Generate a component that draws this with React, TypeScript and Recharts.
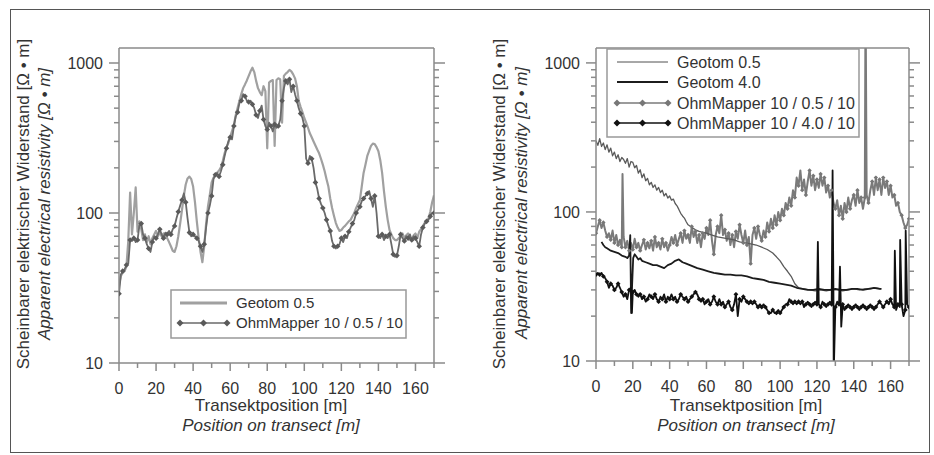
import React from 'react';
import { LineChart, Line, XAxis, YAxis } from 'recharts';

const FONT = '"Liberation Sans", Arial, Helvetica, sans-serif';
const AX = '#8a8a8a';
const TXT = '#333';

// ---------- axes ----------
const xTicks = [0, 10, 20, 30, 40, 50, 60, 70, 80, 90, 100, 110, 120, 130, 140, 150, 160, 170];
const xLabelTicks = [0, 20, 40, 60, 80, 100, 120, 140, 160];
const yTicks = [10, 20, 30, 40, 50, 60, 70, 80, 90, 100, 200, 300, 400, 500, 600, 700, 800, 900, 1000];
const yLabelTicks = [10, 100, 1000];
const xDomain = [0, 170];
const yDomain = [10, 1259];

// transect positions (m) of the 1 m sampled readings
const positions = Array.from({ length: 171 }, (_, i) => i);

// ---------- left panel ----------
const geotomLeft = [
  33, 38, 40, 41, 44, 65, 137, 72, 100, 148, 75,
  88, 78, 66, 72, 64, 70, 62, 68, 72, 76,
  70, 74, 70, 73, 70, 68, 64, 60, 56, 55,
  60, 70, 85, 105, 130, 155, 170, 175, 168, 150,
  118, 88, 68, 55, 47, 60, 85, 110, 132, 160,
  172, 178, 186, 192, 202, 222, 250, 275, 292, 322,
  352, 385, 450, 500, 560, 620, 680, 720, 765, 820,
  880, 930, 870, 760, 680, 640, 610, 700, 650, 270,
  740, 760, 770, 280, 770, 790, 780, 400, 820, 850,
  870, 900, 880, 840, 790, 700, 560, 510, 470, 430,
  400, 370, 340, 320, 300, 282, 265, 250, 230, 210,
  190, 168, 150, 125, 108, 96, 86, 80, 76, 77,
  80, 82, 85, 88, 90, 95, 100, 108, 115, 122,
  150, 185, 210, 240, 260, 280, 290, 288, 275, 258,
  225, 185, 140, 110, 90, 77, 72, 68, 66, 66,
  68, 70, 73, 68, 71, 73, 68, 66, 71, 73,
  68, 75, 78, 82, 86, 88, 92, 102, 118, 131,
];

const ohmLeft = [
  29, 39, 41, 42, 45, 46, 66, 65, 68, 64, 66,
  82, 85, 72, 68, 62, 58, 55, 64, 70, 68,
  72, 78, 72, 68, 74, 72, 76, 72, 78, 82,
  92, 102, 112, 122, 135, 118, 92, 74, 70, 72,
  70, 68, 65, 60, 55, 62, 80, 100, 112, 130,
  168, 180, 185, 175, 190, 210, 240, 270, 300, 320,
  310, 380, 440, 470, 540, 560, 620, 600, 560, 550,
  560, 530, 500, 450, 430, 480, 520, 420, 380, 360,
  400, 380, 350, 390, 370, 380, 420, 560, 680, 760,
  720, 780, 640, 700, 620, 560, 500, 460, 430, 380,
  230, 215, 240, 230, 200, 160, 145, 125, 115, 108,
  100, 90, 82, 76, 65, 60, 58, 60, 62, 68,
  64, 70, 68, 75, 80, 85, 90, 100, 105, 110,
  120, 125, 130, 135, 140, 125, 110, 130, 100, 70,
  68, 72, 66, 70, 68, 72, 62, 53, 51, 52,
  60, 72, 68, 65, 70, 68, 72, 66, 70, 68,
  64, 60, 72, 80, 85, 88, 90, 95, 100, 100,
];

// ---------- right panel ----------
const geotom05RightHead = [
  300, 280, 310, 275, 290, 262, 282, 252, 268, 238, 252,
  228, 242, 218, 232, 225, 212, 228, 200, 218, 215,
  198, 205, 182, 192, 170, 180, 162, 168, 152, 158,
  146, 152, 140, 146, 135, 140, 128, 133, 124, 128,
  120, 122, 114, 110, 104, 98, 94, 91, 86, 82,
];
const geotom05RightTail: [number, number][] = [
  [52, 79], [54, 76], [56, 74], [58, 73], [60, 72], [63, 70], [66, 68], [69, 67], [72, 66],
  [75, 65], [78, 63], [81, 62], [84, 61], [87, 60], [90, 58], [93, 56], [96, 53], [98, 50],
  [100, 47], [102, 43], [104, 40], [106, 37], [108, 33], [110, 31], [113, 30.5], [116, 30],
  [119, 29.5], [122, 30], [125, 29.5], [128, 30], [131, 30], [134, 29.5], [137, 30],
  [140, 30.5], [143, 30], [146, 30.5], [149, 30.5], [152, 31], [155, 30.5],
];

const geotom40Right: [number, number][] = [
  [3, 63], [4, 60], [5, 58], [6, 57], [7, 56], [8, 55], [10, 54], [12, 53], [13, 52],
  [14, 51], [16, 50], [17, 49], [18, 51], [18.6, 70], [19.1, 21], [19.6, 32], [20.2, 49],
  [21, 52], [22, 50], [23, 48], [24, 49], [25, 47], [27, 46], [29, 45], [31, 44], [33, 44],
  [35, 43], [37, 42], [39, 44], [41, 45], [43, 47], [45, 48], [47, 46], [49, 45], [51, 44],
  [53, 43], [55, 42], [58, 41], [61, 40], [64, 39], [67, 38.5], [70, 38], [73, 38],
  [76, 37.5], [79, 37.5], [82, 37], [85, 36], [88, 35.5], [91, 35], [94, 34], [97, 33.5],
  [100, 33], [103, 32.5], [106, 32], [109, 31], [112, 30.5], [115, 30], [118, 30],
  [121, 30.5], [124, 30], [127, 30], [130, 30.5], [133, 30], [136, 30], [139, 30.5],
  [142, 30.5], [145, 30], [148, 30.5], [151, 31], [154, 30.5], [155, 30.5],
];

const ohm05Right = [
  72, 80, 88, 78, 85, 75, 68, 72, 65, 75, 62,
  70, 60, 65, 58, 68, 58, 64, 55, 62, 56,
  66, 58, 62, 55, 60, 65, 56, 62, 57, 64,
  55, 68, 58, 62, 56, 66, 58, 62, 55, 60,
  68, 62, 70, 60, 66, 72, 62, 75, 66, 70,
  62, 80, 68, 74, 62, 70, 58, 72, 66, 78,
  70, 88, 64, 52, 70, 80, 72, 95, 70, 76,
  64, 72, 60, 70, 58, 74, 66, 82, 70, 62,
  75, 60, 68, 45, 70, 78, 66, 80, 70, 64,
  75, 68, 85, 74, 90, 78, 95, 82, 100, 88,
  105, 95, 115, 105, 125, 110, 140, 125, 170, 150,
  190, 140, 165, 130, 160, 190, 150, 175, 140, 165,
  145, 180, 150, 170, 135, 150, 125, 140, 115, 105,
  120, 95, 110, 90, 115, 100, 125, 105, 120, 130,
  110, 140, 115, 125, 105, 125, 130, 115, 140, 160,
  130, 170, 140, 165, 130, 170, 145, 160, 130, 150,
  125, 130, 110, 115, 100, 95, 85, 78, 82, 90,
];
const ohm05RightSpikes: [number, number][] = [[14.4, 180], [146.4, 3000]];

const ohm40Right = [
  38, 39, 38, 39, 37, 36, 34, 31, 33, 32, 30,
  31, 33, 31, 29, 27, 28, 26, 30, 31, 29,
  30, 28, 27, 28, 26, 27, 25, 26, 28, 27,
  26, 28, 26, 25, 27, 26, 28, 25, 27, 26,
  28, 26, 27, 25, 26, 28, 27, 26, 27, 25,
  26, 27, 28, 29, 28, 26, 25, 26, 24, 25,
  26, 24, 25, 27, 25, 24, 26, 24, 25, 23,
  24, 25, 23, 22, 24, 28, 20, 26, 25, 27,
  26, 25, 24, 25, 24, 25, 24, 23, 24, 23,
  24, 23, 22, 21, 21, 22, 21, 21, 22, 21,
  22, 23, 24, 24, 26, 25, 24, 25, 24, 25,
  24, 25, 23, 24, 25, 24, 23, 24, 25, 24,
  24, 23, 25, 24, 23, 24, 25, 24, 24, 23,
  25, 24, 23, 24, 22, 23, 24, 23, 22, 23,
  24, 23, 22, 23, 24, 23, 22, 23, 24, 23,
  22, 23, 24, 25, 24, 23, 24, 25, 24, 26,
  24, 23, 22, 24, 23, 24, 20, 22, 24, 23,
];
const ohm40RightSpikes: [number, number][] = [
  [19.5, 21], [120.5, 63], [128.5, 190], [129.1, 8], [132.5, 43], [133.2, 17],
  [162.3, 55], [165.2, 65], [168.2, 75],
];

// ---------- helpers ----------
type Pt = { x: number; y: number; m: boolean };
function build(values: number[], spikes: [number, number][] = [], every = 0): Pt[] {
  const pts: Pt[] = values.map((y, i) => ({ x: positions[i], y, m: every > 0 && i % every === 0 }));
  spikes.forEach(([x, y]) => pts.push({ x, y, m: false }));
  pts.sort((a, b) => a.x - b.x);
  return pts;
}
function fromPairs(pairs: [number, number][]): Pt[] {
  return pairs.map(([x, y]) => ({ x, y, m: false }));
}

const diamond = (color: string, r: number) => (p: any) => {
  const { cx, cy, index, payload } = p;
  if (!payload || !payload.m || cx == null || cy == null || isNaN(cx) || isNaN(cy)) {
    return <g key={`n${index}`} />;
  }
  return (
    <path
      key={`d${index}`}
      d={`M${cx},${cy - r}L${cx + r},${cy}L${cx},${cy + r}L${cx - r},${cy}Z`}
      fill={color}
    />
  );
};

type Series = { key: string; data: Pt[]; stroke: string; width: number; dot?: any };

const leftSeries: Series[] = [
  { key: 'g05', data: build(geotomLeft), stroke: '#a0a0a0', width: 2.2 },
  { key: 'o05', data: build(ohmLeft, [], 2), stroke: '#6a6a6a', width: 1.8, dot: diamond('#5a5a5a', 2.8) },
];

const rightSeries: Series[] = [
  { key: 'o05', data: build(ohm05Right, ohm05RightSpikes, 2), stroke: '#7a7a7a', width: 2, dot: diamond('#777', 2.2) },
  {
    key: 'g05',
    data: [...build(geotom05RightHead), ...fromPairs(geotom05RightTail)],
    stroke: '#5a5a5a',
    width: 1.3,
  },
  { key: 'g40', data: fromPairs(geotom40Right), stroke: '#1c1c1c', width: 1.8 },
  { key: 'o40', data: build(ohm40Right, ohm40RightSpikes, 2), stroke: '#111', width: 1.8, dot: diamond('#111', 2.4) },
];

// ---------- ticks ----------
const BottomTick = (p: any) => {
  const { x, y, payload } = p;
  const v = payload.value;
  const major = xLabelTicks.includes(v);
  return (
    <g>
      <line x1={x} y1={y} x2={x} y2={y + (major ? 8 : 5)} stroke={AX} strokeWidth={1.5} />
      {major && (
        <text x={x} y={y + 31} textAnchor="middle" fontSize={16} fill={TXT} fontFamily={FONT}>
          {v}
        </text>
      )}
    </g>
  );
};
const TopTick = (p: any) => {
  const { x, y, payload } = p;
  const major = xLabelTicks.includes(payload.value);
  return <line x1={x} y1={y} x2={x} y2={y - (major ? 11 : 5)} stroke={AX} strokeWidth={1.5} />;
};
const LeftTick = (p: any) => {
  const { x, y, payload } = p;
  const v = payload.value;
  const major = yLabelTicks.includes(v);
  return (
    <g>
      <line x1={x} y1={y} x2={x - (major ? 10 : 5)} y2={y} stroke={AX} strokeWidth={1.5} />
      {major && (
        <text x={x - 16} y={y + 6} textAnchor="end" fontSize={16} fill={TXT} fontFamily={FONT}>
          {v}
        </text>
      )}
    </g>
  );
};
const RightTick = (p: any) => {
  const { x, y, payload } = p;
  const major = yLabelTicks.includes(payload.value);
  return <line x1={x} y1={y} x2={x + (major ? 11 : 5)} y2={y} stroke={AX} strokeWidth={1.5} />;
};

const axisLine = { stroke: AX, strokeWidth: 1.5 };

function Panel(props: { left: number; width: number; plotLeft: number; plotRight: number; plotBottom: number; series: Series[] }) {
  const { left, width, plotLeft, plotRight, plotBottom, series } = props;
  const plotTop = 48;
  return (
    <div style={{ position: 'absolute', left, top: 0 }}>
      <LineChart
        width={width}
        height={455}
        margin={{ top: plotTop - 20, left: plotLeft - 50, right: width - plotRight - 20, bottom: 455 - plotBottom - 20 }}
      >
        <XAxis
          dataKey="x"
          type="number"
          domain={xDomain}
          ticks={xTicks}
          interval={0}
          allowDataOverflow
          height={20}
          tickSize={0}
          tickMargin={0}
          tickLine={false}
          axisLine={axisLine}
          tick={BottomTick}
        />
        <XAxis
          xAxisId="top"
          orientation="top"
          type="number"
          domain={xDomain}
          ticks={xTicks}
          interval={0}
          allowDataOverflow
          height={20}
          tickSize={0}
          tickMargin={0}
          tickLine={false}
          axisLine={axisLine}
          tick={TopTick}
        />
        <YAxis
          type="number"
          scale="log"
          domain={yDomain}
          ticks={yTicks}
          interval={0}
          allowDataOverflow
          width={50}
          tickSize={0}
          tickMargin={0}
          tickLine={false}
          axisLine={axisLine}
          tick={LeftTick}
        />
        <YAxis
          yAxisId="right"
          orientation="right"
          type="number"
          scale="log"
          domain={yDomain}
          ticks={yTicks}
          interval={0}
          allowDataOverflow
          width={20}
          tickSize={0}
          tickMargin={0}
          tickLine={false}
          axisLine={axisLine}
          tick={RightTick}
        />
        {series.map((s) => (
          <Line
            key={s.key}
            data={s.data}
            dataKey="y"
            type="linear"
            stroke={s.stroke}
            strokeWidth={s.width}
            strokeLinejoin="round"
            dot={s.dot || false}
            activeDot={false}
            isAnimationActive={false}
          />
        ))}
      </LineChart>
    </div>
  );
}

const D = (cx: number, cy: number, r: number, fill: string) => (
  <path d={`M${cx},${cy - r}L${cx + r},${cy}L${cx},${cy + r}L${cx - r},${cy}Z`} fill={fill} />
);

function Overlay() {
  const t = { fontFamily: FONT, fill: TXT } as const;
  return (
    <svg width={934} height={455} style={{ position: 'absolute', left: 0, top: 0, pointerEvents: 'none' }}>
      <rect x={10.5} y={9.5} width={919} height={443} fill="none" stroke="#555" strokeWidth={1} />

      {/* left panel axis titles */}
      <text {...t} fontSize={17} textAnchor="middle" transform="translate(29,204) rotate(-90)">
        Scheinbarer elektrischer Widerstand [Ω • m]
      </text>
      <text {...t} fontSize={17} fontStyle="italic" textAnchor="middle" transform="translate(50,204) rotate(-90)">
        Apparent electrical resistivity [Ω • m]
      </text>
      <text {...t} fontSize={17} textAnchor="middle" x={271} y={411}>Transektposition [m]</text>
      <text {...t} fontSize={17} fontStyle="italic" textAnchor="middle" x={271} y={431}>Position on transect [m]</text>

      {/* right panel axis titles */}
      <text {...t} fontSize={17} textAnchor="middle" transform="translate(505,204) rotate(-90)">
        Scheinbarer elektrischer Widerstand [Ω • m]
      </text>
      <text {...t} fontSize={17} fontStyle="italic" textAnchor="middle" transform="translate(527,203) rotate(-90)">
        Apparent electrical resistivity [Ω • m]
      </text>
      <text {...t} fontSize={17} textAnchor="middle" x={746} y={411}>Transektposition [m]</text>
      <text {...t} fontSize={17} fontStyle="italic" textAnchor="middle" x={746} y={431}>Position on transect [m]</text>

      {/* left legend */}
      <rect x={171} y={290} width={235} height={48} fill="#fff" stroke="#999" strokeWidth={1.5} />
      <line x1={180} y1={303} x2={227} y2={303} stroke="#a0a0a0" strokeWidth={3} />
      <text {...t} fontSize={15} x={236} y={308}>Geotom 0.5</text>
      <line x1={180} y1={323} x2={227} y2={323} stroke="#6a6a6a" strokeWidth={1.5} />
      {D(180, 323, 3.5, '#5a5a5a')}
      {D(203.5, 323, 3.5, '#5a5a5a')}
      {D(227, 323, 3.5, '#5a5a5a')}
      <text {...t} fontSize={15} x={236} y={328}>OhmMapper 10 / 0.5 / 10</text>

      {/* right legend */}
      <rect x={607} y={49} width={252} height={88} fill="#fff" stroke="#999" strokeWidth={1.5} />
      <line x1={617} y1={62} x2={668} y2={62} stroke="#505050" strokeWidth={1} />
      <text {...t} fontSize={16} x={677} y={68}>Geotom 0.5</text>
      <line x1={617} y1={82} x2={668} y2={82} stroke="#1c1c1c" strokeWidth={2} />
      <text {...t} fontSize={16} x={677} y={88}>Geotom 4.0</text>
      <line x1={617} y1={103} x2={668} y2={103} stroke="#7a7a7a" strokeWidth={1.5} />
      {D(617, 103, 3.5, '#777')}
      {D(642.5, 103, 3.5, '#777')}
      {D(668, 103, 3.5, '#777')}
      <text {...t} fontSize={16} x={677} y={109}>OhmMapper 10 / 0.5 / 10</text>
      <line x1={617} y1={123} x2={668} y2={123} stroke="#111" strokeWidth={1.5} />
      {D(617, 123, 3.5, '#111')}
      {D(642.5, 123, 3.5, '#111')}
      {D(668, 123, 3.5, '#111')}
      <text {...t} fontSize={16} x={677} y={129}>OhmMapper 10 / 4.0 / 10</text>
    </svg>
  );
}

export default function App() {
  return (
    <div style={{ position: 'absolute', left: 0, top: 0, width: 934, height: 455, background: '#fff', overflow: 'hidden' }}>
      <Panel left={0} width={467} plotLeft={119} plotRight={434} plotBottom={363} series={leftSeries} />
      <Panel left={467} width={467} plotLeft={129} plotRight={442} plotBottom={361} series={rightSeries} />
      <Overlay />
    </div>
  );
}
